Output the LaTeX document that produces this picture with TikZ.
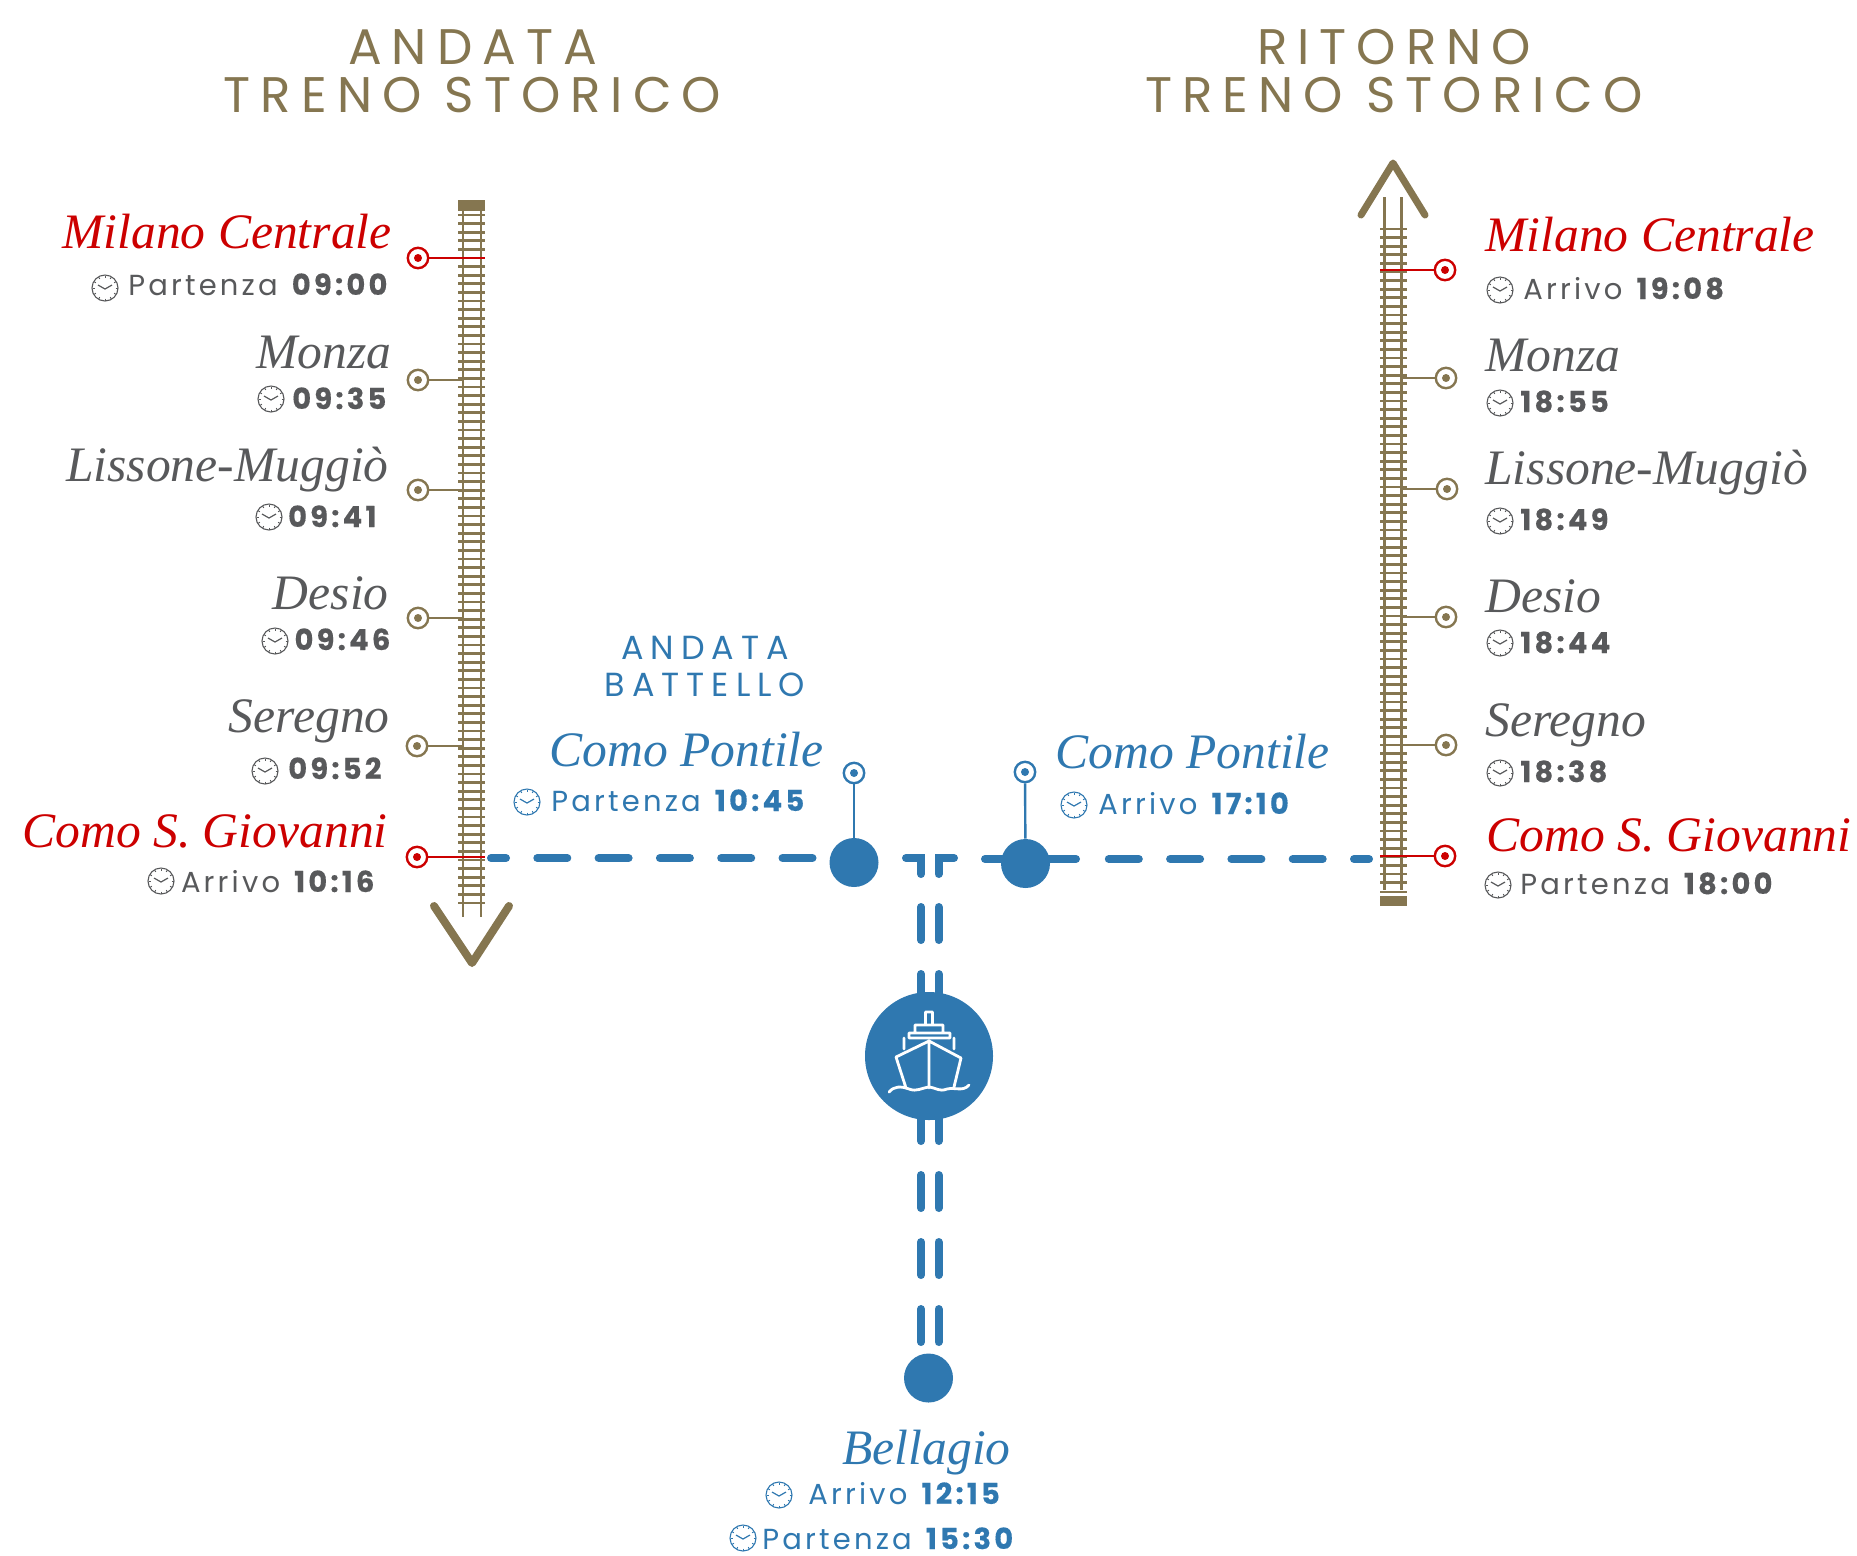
\documentclass[tikz,border=0pt]{standalone}
\usepackage{fontspec}
\setmainfont{Liberation Serif}
\newfontfamily\popfont[LetterSpace=11, BoldFeatures={FakeBold=0.4}]{Poppins}
\newfontfamily\headfont[LetterSpace=20]{Poppins}
\newfontfamily\subheadfont[LetterSpace=21]{Poppins}
\usetikzlibrary{positioning}
\definecolor{gold}{HTML}{857650}
\definecolor{stopred}{HTML}{CC0000}
\definecolor{boatblue}{HTML}{2F78B0}
\definecolor{ink}{HTML}{58595B}
\tikzset{
    headline/.style={font=\headfont\fontsize{25}{27}\selectfont, text=gold, inner sep=0, anchor=base},
    subhead/.style={font=\subheadfont\fontsize{16.7}{18}\selectfont, text=boatblue, inner sep=0, anchor=base},
    station/.style={font=\itshape\fontsize{24.8}{27}\selectfont, text=#1, inner sep=0},
    timing/.style={font=\popfont\fontsize{14.5}{16}\selectfont, text=#1, inner sep=0},
    stop/.style={circle, draw=#1, fill=white, line width=1.2pt, minimum size=10.2pt, inner sep=0,
        path picture={\fill[#1] (path picture bounding box.center) circle (2pt);}},
    stub/.style={draw=#1, line width=1.2pt},
    rail/.style={draw=gold, line width=1.35pt},
    bigstop/.style={circle, fill=boatblue, minimum size=24.5pt, inner sep=0},
    shipdisc/.style={circle, fill=boatblue, minimum size=64pt, inner sep=0},
    boatdash/.style={draw=boatblue, line width=4pt, line cap=round},
    pics/clockface/.style={code={
        \draw[#1, line width=.55pt] (0,0) circle (13);
        \foreach \a in {0,30,...,330} \draw[#1, line width=.45pt] (\a:10.5) -- (\a:12.5);
        \draw[#1, line width=.6pt] (-7,-3) -- (0,1) -- (7,-3);
    }},
    pics/shipicon/.style={code={
        \draw[white, line width=1.4pt, line join=round, line cap=round]
            (-3.5,-31) -- (-3.5,-44) -- (3.5,-44) -- (3.5,-31)
            (-14,-23) -- (-14,-31) -- (14,-31) -- (14,-23)
            (-20,-18) -- (-20,-23) -- (21,-23) -- (21,-18) -- cycle
            (-25,-7) -- (-25,-18) (25,-7) -- (25,-18)
            (-23,32) -- (-33,1) -- (0,-15) -- (32,2) -- (25,31)
            (0,-15) -- (0,32)
            (-40,36) .. controls (-35,30) and (-28,30) .. (-20,33)
            .. controls (-12,36) and (-8,32) .. (0,31)
            .. controls (8,32) and (10,36) .. (18,33)
            .. controls (26,31) and (34,36) .. (40,29);
    }}
}

\begin{document}
\begin{tikzpicture}[x=0.5pt, y=-0.5pt]
\useasboundingbox (0,0) rectangle (1857,1555);

\node[headline] (titleA) at (472.5,64) {ANDATA};
\node[headline] (titleB) at (472.5,112.5) {TRENO STORICO};
\node[headline] (titleC) at (1394,64) {RITORNO};
\node[headline] (titleD) at (1394,112.5) {TRENO STORICO};

\foreach \y in {215,223.6,...,904} \draw[rail] (458,\y) -- (485,\y);
\draw[rail] (463,210) -- (463,917);
\draw[rail] (481,210) -- (481,917);
\fill[gold] (458,200) rectangle (485,210.5);
\draw[gold, line width=4pt, line cap=round, line join=round] (434,906) -- (472,963) -- (509,906);

\foreach \y in {229,237.6,...,885} \draw[rail] (1380,\y) -- (1407,\y);
\draw[rail] (1380,892) -- (1407,892);
\draw[rail] (1384.5,197) -- (1384.5,890);
\draw[rail] (1401.5,197) -- (1401.5,890);
\fill[gold] (1380,896) rectangle (1407,906);
\draw[gold, line width=3.5pt, line cap=round, line join=round] (1361,215) -- (1393,163) -- (1425,215);

\coordinate (trackA) at (463,0);
\coordinate (trackAend) at (485,0);
\coordinate (trackB) at (1401,0);
\coordinate (trackBend) at (1380,0);

\node[stop=stopred] (stopA1) at (418,258) {};
\node[stop=gold] (stopA2) at (418,380) {};
\node[stop=gold] (stopA3) at (418,490) {};
\node[stop=gold] (stopA4) at (418,618) {};
\node[stop=gold] (stopA5) at (417,746) {};
\node[stop=stopred] (stopA6) at (417,857) {};
\draw[stub=stopred] (stopA1) -- (stopA1 -| trackAend);
\draw[stub=gold] (stopA2) -- (stopA2 -| trackA);
\draw[stub=gold] (stopA3) -- (stopA3 -| trackA);
\draw[stub=gold] (stopA4) -- (stopA4 -| trackA);
\draw[stub=gold] (stopA5) -- (stopA5 -| trackA);
\draw[stub=stopred] (stopA6) -- (stopA6 -| trackAend);

\node[stop=stopred] (stopB1) at (1445,270) {};
\node[stop=gold] (stopB2) at (1446,378) {};
\node[stop=gold] (stopB3) at (1447,489) {};
\node[stop=gold] (stopB4) at (1446,617) {};
\node[stop=gold] (stopB5) at (1446,745) {};
\node[stop=stopred] (stopB6) at (1445,856) {};
\draw[stub=stopred] (stopB1) -- (stopB1 -| trackBend);
\draw[stub=gold] (stopB2) -- (stopB2 -| trackB);
\draw[stub=gold] (stopB3) -- (stopB3 -| trackB);
\draw[stub=gold] (stopB4) -- (stopB4 -| trackB);
\draw[stub=gold] (stopB5) -- (stopB5 -| trackB);
\draw[stub=stopred] (stopB6) -- (stopB6 -| trackBend);

\node[station=stopred, anchor=base east] (nameA1) at (392,248) {Milano Centrale};
\node[timing=ink, anchor=base east] (timeA1) at (391,295) {Partenza \textbf{09:00}};
\pic at (105,288) {clockface=ink};
\node[station=ink, anchor=base east] (nameA2) at (392,368.5) {Monza};
\node[timing=ink, anchor=base east] (timeA2) at (390,409) {\textbf{09:35}};
\pic at (271,399) {clockface=ink};
\node[station=ink, anchor=base east] (nameA3) at (389,481) {Lissone-Muggiò};
\node[timing=ink, anchor=base east] (timeA3) at (380,527) {\textbf{09:41}};
\pic at (269,517) {clockface=ink};
\node[station=ink, anchor=base east] (nameA4) at (389,609) {Desio};
\node[timing=ink, anchor=base east] (timeA4) at (394,650) {\textbf{09:46}};
\pic at (275,641) {clockface=ink};
\node[station=ink, anchor=base east] (nameA5) at (390,732) {Seregno};
\node[timing=ink, anchor=base east] (timeA5) at (385,779) {\textbf{09:52}};
\pic at (265,771) {clockface=ink};
\node[station=stopred, anchor=base east] (nameA6) at (388,847) {Como S. Giovanni};
\node[timing=ink, anchor=base east] (timeA6) at (378,892) {Arrivo \textbf{10:16}};
\pic at (161,881) {clockface=ink};

\node[station=stopred, anchor=base west] (nameB1) at (1485,251) {Milano Centrale};
\node[timing=ink, anchor=base west] (timeB1) at (1523,299) {Arrivo \textbf{19:08}};
\pic at (1500,290) {clockface=ink};
\node[station=ink, anchor=base west] (nameB2) at (1485,371) {Monza};
\node[timing=ink, anchor=base west] (timeB2) at (1520,412) {\textbf{18:55}};
\pic at (1500,403) {clockface=ink};
\node[station=ink, anchor=base west] (nameB3) at (1485,484.5) {Lissone-Muggiò};
\node[timing=ink, anchor=base west] (timeB3) at (1520,530) {\textbf{18:49}};
\pic at (1500,521) {clockface=ink};
\node[station=ink, anchor=base west] (nameB4) at (1485,612) {Desio};
\node[timing=ink, anchor=base west] (timeB4) at (1520,653) {\textbf{18:44}};
\pic at (1500,643) {clockface=ink};
\node[station=ink, anchor=base west] (nameB5) at (1485,736) {Seregno};
\node[timing=ink, anchor=base west] (timeB5) at (1520,782) {\textbf{18:38}};
\pic at (1500,773) {clockface=ink};
\node[station=stopred, anchor=base west] (nameB6) at (1486,851) {Como S. Giovanni};
\node[timing=ink, anchor=base west] (timeB6) at (1520,894) {Partenza \textbf{18:00}};
\pic at (1498,885) {clockface=ink};

\coordinate (dashA) at (491,858);
\coordinate (dashAend) at (813,858);
\draw[boatdash, dash pattern=on 15pt off 15.65pt, dash phase=7.5pt] (dashA) -- (dashAend);
\coordinate (dashB) at (1369,859);
\coordinate (dashBend) at (1108,859);
\draw[boatdash, dash pattern=on 15pt off 15.65pt, dash phase=7.5pt] (dashB) -- (dashBend);
\coordinate (dashC) at (985,859);
\coordinate (dashCend) at (1076,859);
\draw[boatdash] (dashC) -- (dashCend);

\coordinate (cornerA) at (906,858);
\coordinate (cornerAm) at (921,858);
\coordinate (cornerAend) at (921,874);
\coordinate (cornerB) at (954,858);
\coordinate (cornerBm) at (938.5,858);
\coordinate (cornerBend) at (938.5,874);
\draw[boatdash, line join=miter] (cornerA) -- (cornerAm) -- (cornerAend);
\draw[boatdash, line join=miter] (cornerB) -- (cornerBm) -- (cornerBend);

\coordinate (laneA) at (921,907);
\coordinate (laneAend) at (921,1342);
\coordinate (laneB) at (938.5,907);
\coordinate (laneBend) at (938.5,1342);
\draw[boatdash, dash pattern=on 16.5pt off 17pt] (laneA) -- (laneAend);
\draw[boatdash, dash pattern=on 16.5pt off 17pt] (laneB) -- (laneBend);

\node[stop=boatblue] (stopC1) at (854,773) {};
\node[bigstop] (portA) at (854,862.5) {};
\draw[stub=boatblue] (stopC1) -- (portA);
\node[stop=boatblue] (stopC2) at (1025,772) {};
\node[bigstop] (portB) at (1025.5,863.5) {};
\draw[stub=boatblue] (stopC2) -- (portB);
\node[shipdisc] (ship) at (929,1056) {};
\pic at (ship.center) {shipicon};
\node[bigstop] (portC) at (928.5,1378) {};

\node[subhead] (subA) at (705,659) {ANDATA};
\node[subhead] (subB) at (705,696) {BATTELLO};

\node[station=boatblue, anchor=base east] (nameC1) at (824,766) {Como Pontile};
\node[timing=boatblue, anchor=base west] (timeC1) at (551,811) {Partenza \textbf{10:45}};
\pic at (527,802) {clockface=boatblue};
\node[station=boatblue, anchor=base west] (nameC2) at (1055,768.5) {Como Pontile};
\node[timing=boatblue, anchor=base west] (timeC2) at (1098,814) {Arrivo \textbf{17:10}};
\pic at (1074,805) {clockface=boatblue};

\node[station=boatblue, anchor=base east] (nameC3) at (1011,1464) {Bellagio};
\node[timing=boatblue, anchor=base west] (timeC3) at (808,1504) {Arrivo \textbf{12:15}};
\pic at (779,1495) {clockface=boatblue};
\node[timing=boatblue, anchor=base west] (timeC4) at (762,1549) {Partenza \textbf{15:30}};
\pic at (743,1538) {clockface=boatblue};
\end{tikzpicture}
\end{document}
